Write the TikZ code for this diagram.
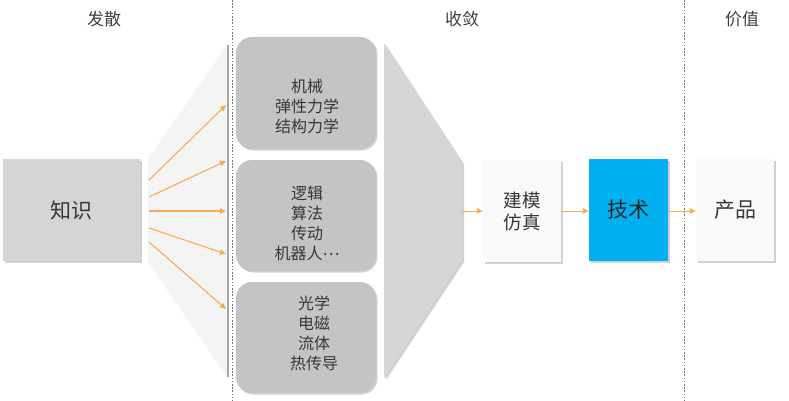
\documentclass[tikz,border=0pt]{standalone}
\usepackage{fontspec}
\setmainfont{Noto Sans CJK SC}
\usetikzlibrary{arrows.meta,shadows}
\definecolor{funlight}{RGB}{244,244,244}
\definecolor{fundark}{RGB}{214,214,214}
\definecolor{kbox}{RGB}{213,213,213}
\definecolor{rbox}{RGB}{196,196,196}
\definecolor{wbox}{RGB}{250,250,250}
\definecolor{techblue}{RGB}{0,176,240}
\definecolor{arr}{RGB}{247,172,82}
\definecolor{txt}{RGB}{55,55,55}
\definecolor{hdr}{RGB}{64,64,64}
\tikzset{
  shd/.style={drop shadow={shadow xshift=1.5pt,shadow yshift=-1.5pt,fill=black!30,opacity=0.6}},
  sqbox/.style={shd,minimum width=#1,minimum height=102pt,inner sep=0pt,align=center,text=txt},
  rbx/.style={shd,fill=rbox,rounded corners=16pt,minimum width=140pt,minimum height=112pt,inner sep=0pt},
  rtx/.style={align=center,text=txt,inner sep=0pt,font=\fontsize{16}{20}\selectfont},
  oarr/.style={draw=arr,line width=1.1pt,-{Triangle[length=6pt,width=5.5pt]}},
  sep/.style={draw=black!55,line width=0.8pt,dash pattern=on 1.6pt off 1.6pt},
  hd/.style={text=hdr,font=\fontsize{17}{20}\selectfont}
}
\begin{document}
\begin{tikzpicture}[x=1pt,y=-1pt]
\useasboundingbox (0,0) rectangle (789,401);
% separators
\draw[sep] (232,0) -- (232,401);
\draw[sep] (684,0) -- (684,401);
% headers
\node[hd] (h1) at (104,19) {发散};
\node[hd] (h2) at (462,19) {收敛};
\node[hd] (h3) at (742,19) {价值};
% left funnel
\fill[funlight] (148,159) -- (227,45) -- (227,377) -- (148,262) -- cycle;
\draw[black!35,line width=1.2pt] (228,45) -- (228,377);
% right funnel
\fill[black!18] (386,45) -- (464,164) -- (464,262) -- (386,380) -- cycle;
\fill[fundark] (384,43) -- (462,162) -- (462,260) -- (384,378) -- cycle;
% knowledge box
\node[sqbox=137pt,fill=kbox,font=\fontsize{21}{24}\selectfont] (kn) at (71.5,210) {知识};
% rounded boxes
\node[rbx] (b1) at (306,93) {};
\node[rbx,minimum height=111pt] (b2) at (306,215.5) {};
\node[rbx,minimum height=111pt] (b3) at (306,337.5) {};
\node[rtx] (b1t) at (307,106) {机械\\弹性力学\\结构力学};
\node[rtx] (b2t) at (307,223) {逻辑\\算法\\传动\\机器人\raisebox{4pt}{…}};
\node[rtx] (b3t) at (314,333) {光学\\电磁\\流体\\热传导};
% right boxes
\node[sqbox=78pt,fill=wbox,font=\fontsize{18.5}{22}\selectfont] (sim) at (522,211) {建模\\仿真};
\node[sqbox=79pt,fill=techblue,text=black!85,font=\fontsize{21}{24}\selectfont] (tech) at (628.5,210) {技术};
\node[sqbox=78pt,fill=wbox,font=\fontsize{21}{24}\selectfont] (prod) at (735,210) {产品};
% arrow anchors
\coordinate (s1) at (149,180); \coordinate (e1) at (226,105);
\coordinate (s2) at (149,197); \coordinate (e2) at (226,161);
\coordinate (s3) at (149,211); \coordinate (e3) at (226,211);
\coordinate (s4) at (149,228); \coordinate (e4) at (226,254);
\coordinate (s5) at (149,242); \coordinate (e5) at (226,309);
\foreach \i in {1,...,5} {\draw[oarr] (s\i) -- (e\i);}
\coordinate (ft) at (462,211);
\draw[oarr,line width=0.9pt] (ft) -- (sim.west |- ft);
\draw[oarr,line width=0.9pt] (sim.east |- ft) -- (tech.west |- ft);
\draw[oarr,line width=0.9pt] (tech.east |- ft) -- (prod.west |- ft);
\end{tikzpicture}
\end{document}
